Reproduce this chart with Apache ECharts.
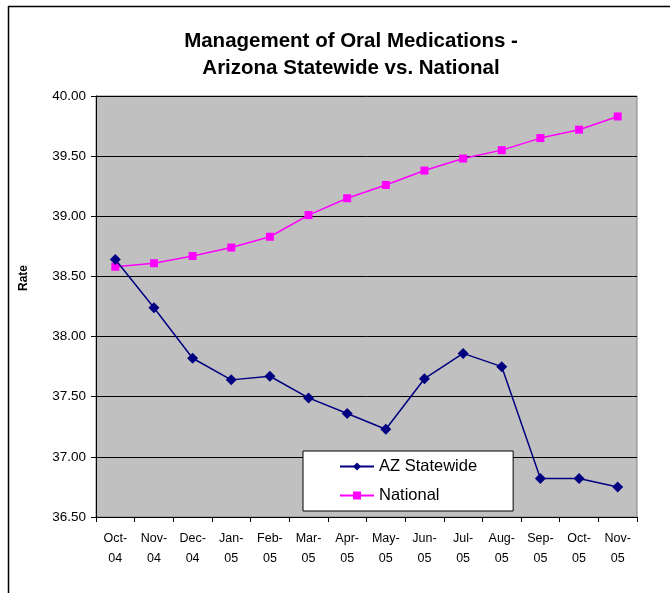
<!DOCTYPE html>
<html>
<head>
<meta charset="utf-8">
<script src="https://cdn.jsdelivr.net/npm/echarts@6/dist/echarts.min.js"></script>
<style>html,body{margin:0;padding:0;background:#fff}#c{width:670px;height:593px}</style>
</head>
<body>
<div id="c"></div>
<script>
var categories = ['Oct-\n04','Nov-\n04','Dec-\n04','Jan-\n05','Feb-\n05','Mar-\n05','Apr-\n05','May-\n05','Jun-\n05','Jul-\n05','Aug-\n05','Sep-\n05','Oct-\n05','Nov-\n05'];
var azStatewide = [38.64,38.24,37.82,37.64,37.67,37.49,37.36,37.23,37.65,37.86,37.75,36.82,36.82,36.75];
var national = [38.58,38.61,38.67,38.74,38.83,39.01,39.15,39.26,39.38,39.48,39.55,39.65,39.72,39.83];
var yMin = 36.5, yMax = 40, yStep = 0.5;

var chart = echarts.init(document.getElementById('c'), null, {renderer:'canvas'});
var F = 'Arial, "Liberation Sans", sans-serif';
chart.setOption({
  animation:false,
  backgroundColor:'#fff',
  title:{
    text:'Management of Oral Medications -\nArizona Statewide vs. National',
    left:346, top:23, textAlign:'center',
    textStyle:{fontFamily:F,fontSize:20.5,fontWeight:'bold',color:'#000',lineHeight:27}
  },
  graphic:[
    {type:'line',shape:{x1:8,y1:6.5,x2:670,y2:6.5},style:{stroke:'#000',lineWidth:1.5}},
    {type:'line',shape:{x1:8.5,y1:6,x2:8.5,y2:593},style:{stroke:'#000',lineWidth:1.5}},
    {type:'text',x:24,y:278,rotation:Math.PI/2,
     style:{text:'Rate',font:'bold 12px Arial, "Liberation Sans", sans-serif',fill:'#000',textAlign:'center',textVerticalAlign:'middle'}}
  ],
  legend:{
    orient:'vertical', left:303, top:451,
    padding:[7,36,7,36], itemGap:12,
    itemWidth:34, itemHeight:10,
    backgroundColor:'#fff', borderColor:'#000', borderWidth:1,
    textStyle:{fontFamily:F,fontSize:16.5,color:'#000'},
    data:['AZ Statewide','National']
  },
  grid:{left:96,top:96,right:33,bottom:76,show:true,backgroundColor:'#C0C0C0',borderColor:'#808080',borderWidth:1},
  xAxis:{
    type:'category', data:categories, boundaryGap:true,
    axisLine:{lineStyle:{color:'#000',width:1}},
    axisTick:{show:true,length:5,lineStyle:{color:'#000'}},
    axisLabel:{fontFamily:F,fontSize:12.5,color:'#000',lineHeight:20,margin:12,interval:0}
  },
  yAxis:{
    type:'value', min:yMin, max:yMax, interval:yStep,
    axisLine:{show:true,lineStyle:{color:'#000',width:1}},
    axisTick:{show:true,length:5,lineStyle:{color:'#000'}},
    axisLabel:{fontFamily:F,fontSize:13.5,color:'#000',margin:10,formatter:function(v){return v.toFixed(2);}},
    splitLine:{show:true,lineStyle:{color:'#000',width:1}}
  },
  series:[
    {name:'AZ Statewide',type:'line',data:azStatewide,symbol:'diamond',symbolSize:11,
     lineStyle:{color:'#000080',width:1.5},itemStyle:{color:'#000080'},z:3},
    {name:'National',type:'line',data:national,symbol:'rect',symbolSize:8,
     lineStyle:{color:'#FF00FF',width:1.5},itemStyle:{color:'#FF00FF'},z:2}
  ]
});
</script>
</body>
</html>
